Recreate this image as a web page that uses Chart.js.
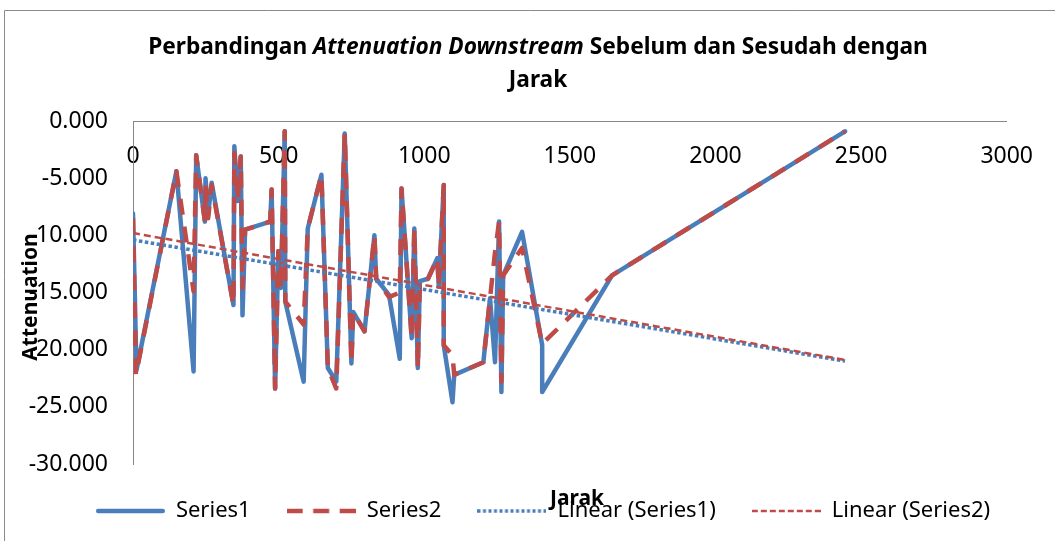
<!DOCTYPE html>
<html>
<head>
<meta charset="utf-8">
<style>
  html, body { margin: 0; padding: 0; background: #fff; }
  #wrap { position: relative; width: 1055px; height: 541px; }
</style>
<script src="https://cdn.jsdelivr.net/npm/chart.js@4.4.0/dist/chart.umd.min.js"></script>
</head>
<body>
<div id="wrap"><canvas id="myChart" width="1055" height="541"></canvas></div>
<script>
// --- Data ---
const jarak1 = [0, 12, 149, 208, 217, 247, 249, 258, 270, 345, 348, 360, 370, 376, 385, 471, 476, 488, 499, 508,
    521, 523, 586, 600, 647, 669, 698, 727, 750, 756, 795, 829, 835, 879, 916, 922, 957, 966, 978, 985,
    1013, 1045, 1050, 1067, 1067, 1097, 1103, 1203, 1226, 1243, 1257, 1265, 1271, 1336, 1405, 1405, 1645, 2445];
const att1 = [-8.1, -21.8, -4.4, -21.9, -3.0, -8.8, -5.0, -8.2, -5.4, -16.1, -2.2, -7.0, -3.1, -17.0, -9.5, -8.8, -6.0, -23.4, -11.4, -14.6,
    -0.9, -15.8, -22.8, -9.4, -4.7, -21.6, -22.8, -1.1, -21.2, -16.7, -18.4, -10.0, -13.8, -15.2, -20.8, -5.9, -19.0, -9.4, -21.6, -14.0,
    -13.8, -12.0, -14.5, -5.6, -19.6, -24.6, -22.2, -21.1, -15.5, -21.1, -8.8, -23.7, -13.5, -9.7, -19.6, -23.7, -13.5, -0.9];

const jarak2 = [0, 10, 149, 208, 217, 247, 249, 258, 270, 345, 348, 360, 370, 376, 385, 471, 476, 488, 499, 508,
    521, 523, 586, 600, 647, 669, 698, 727, 750, 756, 795, 829, 835, 879, 916, 922, 957, 966, 978, 985,
    1013, 1045, 1050, 1067, 1067, 1097, 1103, 1203, 1226, 1243, 1257, 1265, 1271, 1336, 1405, 1645, 2445];
const att2 = [-8.5, -22.2, -4.4, -14.9, -3.0, -8.8, -5.5, -8.5, -5.6, -16.1, -2.8, -7.0, -3.1, -14.6, -9.5, -8.8, -6.0, -23.4, -11.4, -14.6,
    -0.9, -15.8, -17.8, -9.4, -4.7, -21.6, -23.4, -1.1, -21.2, -16.7, -18.4, -10.0, -13.8, -15.4, -15.0, -5.9, -19.0, -9.4, -21.6, -14.0,
    -13.8, -12.0, -14.5, -5.6, -19.6, -20.5, -22.2, -21.1, -15.5, -11.5, -8.8, -22.8, -13.5, -11.1, -19.5, -13.5, -0.9];

// trendline end points
const trendX = [0, 2445];
const trend1 = [-10.4, -21.0];
const trend2 = [-9.8, -20.9];

const seriesNames = ["Series1", "Series2", "Linear (Series1)", "Linear (Series2)"];
const titleLine1 = [["Perbandingan ", ""], ["Attenuation Downstream", "italic "], [" Sebelum dan Sesudah dengan", ""]];
const titleLine2 = "Jarak";
const xTitle = "Jarak";
const yTitle = "Attenuation";

const FONT = "'Noto Sans', 'Open Sans', sans-serif";
const BLUE = "#4A7EBB";
const RED = "#BE4B48";
const SAMPLE_W = 69;

function toPoints(xs, ys) {
    return xs.map((x, i) => ({ x: x, y: ys[i] }));
}

// little line samples for the legend (Chart.js ignores dashes for point-style legends)
function lineSample(color, width, dash, cap) {
    const c = document.createElement("canvas");
    c.width = SAMPLE_W;
    c.height = 10;
    const g = c.getContext("2d");
    g.strokeStyle = color;
    g.lineWidth = width;
    g.lineCap = cap || "butt";
    g.setLineDash(dash);
    g.beginPath();
    g.moveTo(cap === "round" ? width / 2 : 0, 5);
    g.lineTo(SAMPLE_W - (cap === "round" ? width / 2 : 0), 5);
    g.stroke();
    return c;
}

// --- Plugin: frame, title with italic part, axis titles ---
const decorPlugin = {
    id: "decor",
    afterLayout(chart) {
        // shift the legend row a bit to the right, like the Excel original
        if (chart.legend) {
            chart.legend.left = 31;
            chart.legend.right = 1055;
        }
    },
    beforeDraw(chart) {
        const ctx = chart.ctx;
        ctx.save();
        ctx.fillStyle = "#fff";
        ctx.fillRect(0, 0, chart.width, chart.height);
        ctx.strokeStyle = "#8a8a8a";
        ctx.lineWidth = 1;
        ctx.beginPath();
        ctx.moveTo(4.5, chart.height + 2);
        ctx.lineTo(4.5, 10.5);
        ctx.lineTo(chart.width + 2, 10.5);
        ctx.stroke();
        ctx.restore();
    },
    afterDraw(chart) {
        const ctx = chart.ctx;
        ctx.save();
        ctx.fillStyle = "#000";
        ctx.textBaseline = "middle";

        // title, fitted to the reference width
        let size = 20;
        const measure = (s) => {
            let w = 0;
            titleLine1.forEach(([t, st]) => {
                ctx.font = st + "bold " + s + "px " + FONT;
                w += ctx.measureText(t).width;
            });
            return w;
        };
        size = size * 780 / measure(size);
        const total = measure(size);
        let x = 538 - total / 2;
        ctx.textAlign = "left";
        titleLine1.forEach(([t, st]) => {
            ctx.font = st + "bold " + size + "px " + FONT;
            ctx.fillText(t, x, 48);
            x += ctx.measureText(t).width;
        });
        ctx.font = "bold " + size + "px " + FONT;
        ctx.textAlign = "center";
        ctx.fillText(titleLine2, 538, 81);

        // axis titles (Excel lets them overlap)
        ctx.font = "bold 21px " + FONT;
        ctx.fillText(xTitle, 577, 499);
        ctx.translate(31, 297);
        ctx.rotate(-Math.PI / 2);
        ctx.fillText(yTitle, 0, 0);
        ctx.restore();
    }
};

const ctx = document.getElementById("myChart").getContext("2d");
new Chart(ctx, {
    type: "scatter",
    data: {
        datasets: [
            {
                label: seriesNames[0],
                data: toPoints(jarak1, att1),
                showLine: true,
                borderColor: BLUE,
                backgroundColor: BLUE,
                borderWidth: 4.5,
                borderJoinStyle: "round",
                borderCapStyle: "round",
                pointRadius: 0,
                pointStyle: lineSample(BLUE, 4.5, [], "round"),
                order: 4
            },
            {
                label: seriesNames[1],
                data: toPoints(jarak2, att2),
                showLine: true,
                borderColor: RED,
                backgroundColor: RED,
                borderWidth: 4.5,
                borderDash: [16, 12],
                borderJoinStyle: "round",
                pointRadius: 0,
                pointStyle: lineSample(RED, 4.5, [16, 10.5]),
                order: 3
            },
            {
                label: seriesNames[2],
                data: toPoints(trendX, trend1),
                showLine: true,
                borderColor: BLUE,
                backgroundColor: BLUE,
                borderWidth: 3.5,
                borderDash: [3.5, 2.5],
                pointRadius: 0,
                pointStyle: lineSample(BLUE, 3.5, [3, 2.5]),
                order: 2
            },
            {
                label: seriesNames[3],
                data: toPoints(trendX, trend2),
                showLine: true,
                borderColor: RED,
                backgroundColor: RED,
                borderWidth: 2.5,
                borderDash: [7, 4],
                pointRadius: 0,
                pointStyle: lineSample(RED, 2.5, [6, 3]),
                order: 1
            }
        ]
    },
    options: {
        responsive: false,
        animation: false,
        events: [],
        layout: { padding: { left: 0, right: 28, top: 121, bottom: 9 } },
        scales: {
            x: {
                type: "linear",
                min: 0,
                max: 3000,
                position: { y: 0 },
                grid: { display: false, drawTicks: false },
                border: { display: true, color: "#868686", width: 1 },
                ticks: {
                    stepSize: 500,
                    padding: 22,
                    color: "#000",
                    font: { family: FONT, size: 23 },
                    callback: (v) => String(v)
                },
                afterFit: (scale) => { scale.height = 0; }
            },
            y: {
                min: -30,
                max: 0,
                grid: { display: false, drawTicks: false },
                border: { display: true, color: "#868686", width: 1 },
                ticks: {
                    stepSize: 5,
                    padding: 25,
                    color: "#000",
                    font: { family: FONT, size: 23 },
                    callback: (v) => v.toFixed(3)
                },
                afterFit: (scale) => { scale.width = 133; }
            }
        },
        plugins: {
            title: { display: false },
            tooltip: { enabled: false },
            legend: {
                display: true,
                position: "bottom",
                maxHeight: 78,
                labels: {
                    usePointStyle: true,
                    pointStyleWidth: SAMPLE_W,
                    padding: 36,
                    color: "#000",
                    font: { family: FONT, size: 22 },
                    sort: (a, b) => a.datasetIndex - b.datasetIndex
                }
            }
        }
    },
    plugins: [decorPlugin]
});
</script>
</body>
</html>
